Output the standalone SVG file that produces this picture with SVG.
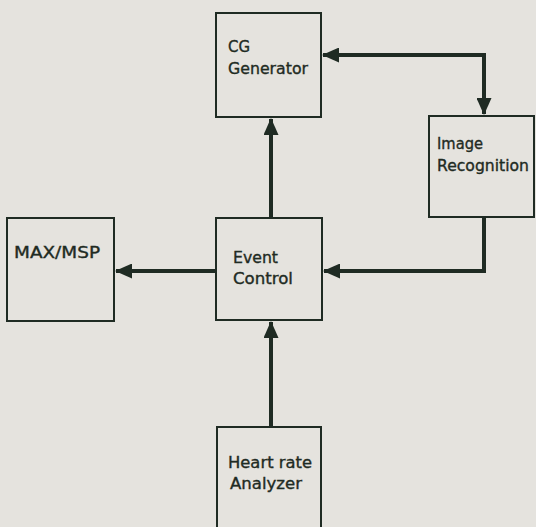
<svg xmlns="http://www.w3.org/2000/svg" width="536" height="527" viewBox="0 0 536 527">
  <style>
    .box { fill: none; stroke: #1f2b23; stroke-width: 2; }
    .lbl { font-family: "DejaVu Sans", "Liberation Sans", sans-serif; font-size: 15px; fill: #1f2b23; stroke: #1f2b23; stroke-width: 0.35; }
    .wire { fill: none; stroke: #1f2b23; stroke-width: 4; stroke-linejoin: miter; }
  </style>
  <defs>
    <marker id="head" viewBox="0 0 17 15" refX="16" refY="7.5" markerWidth="17" markerHeight="15" markerUnits="userSpaceOnUse" orient="auto-start-reverse">
      <path d="M0,0 L17,7.5 L0,15 Z" fill="#1f2b23"/>
    </marker>
  </defs>
  <rect width="536" height="527" fill="#e5e3de"/>

  <g id="connectors">
    <!-- CG Generator <-> Image Recognition -->
    <path class="wire" d="M323,55 H484 V114" marker-start="url(#head)" marker-end="url(#head)"/>
    <!-- Image Recognition -> Event Control -->
    <path class="wire" d="M484,217 V271 H324" marker-end="url(#head)"/>
    <!-- Event Control -> CG Generator -->
    <path class="wire" d="M271,218 V119" marker-end="url(#head)"/>
    <!-- Event Control -> MAX/MSP -->
    <path class="wire" d="M216,271 H116" marker-end="url(#head)"/>
    <!-- Heart rate Analyzer -> Event Control -->
    <path class="wire" d="M271,427 V322" marker-end="url(#head)"/>
  </g>

  <g id="cg-generator">
    <rect class="box" x="216" y="13" width="105" height="104"/>
    <text class="lbl" x="228" y="52" textLength="22" lengthAdjust="spacingAndGlyphs">CG</text>
    <text class="lbl" x="228" y="74" textLength="80" lengthAdjust="spacingAndGlyphs">Generator</text>
  </g>

  <g id="image-recognition">
    <rect class="box" x="429" y="116" width="105" height="101"/>
    <text class="lbl" x="437" y="149" textLength="46" lengthAdjust="spacingAndGlyphs">Image</text>
    <text class="lbl" x="437" y="171" textLength="92" lengthAdjust="spacingAndGlyphs">Recognition</text>
  </g>

  <g id="event-control">
    <rect class="box" x="216" y="218" width="106" height="102"/>
    <text class="lbl" x="233" y="263" textLength="45" lengthAdjust="spacingAndGlyphs">Event</text>
    <text class="lbl" x="233" y="284" textLength="60" lengthAdjust="spacingAndGlyphs">Control</text>
  </g>

  <g id="max-msp">
    <rect class="box" x="7" y="218" width="107" height="103"/>
    <text class="lbl" x="14" y="258" textLength="86" lengthAdjust="spacingAndGlyphs">MAX/MSP</text>
  </g>

  <g id="heart-rate-analyzer">
    <rect class="box" x="217" y="427" width="104" height="110"/>
    <text class="lbl" x="228" y="468" textLength="84" lengthAdjust="spacingAndGlyphs">Heart rate</text>
    <text class="lbl" x="230" y="489" textLength="72" lengthAdjust="spacingAndGlyphs">Analyzer</text>
  </g>
</svg>
